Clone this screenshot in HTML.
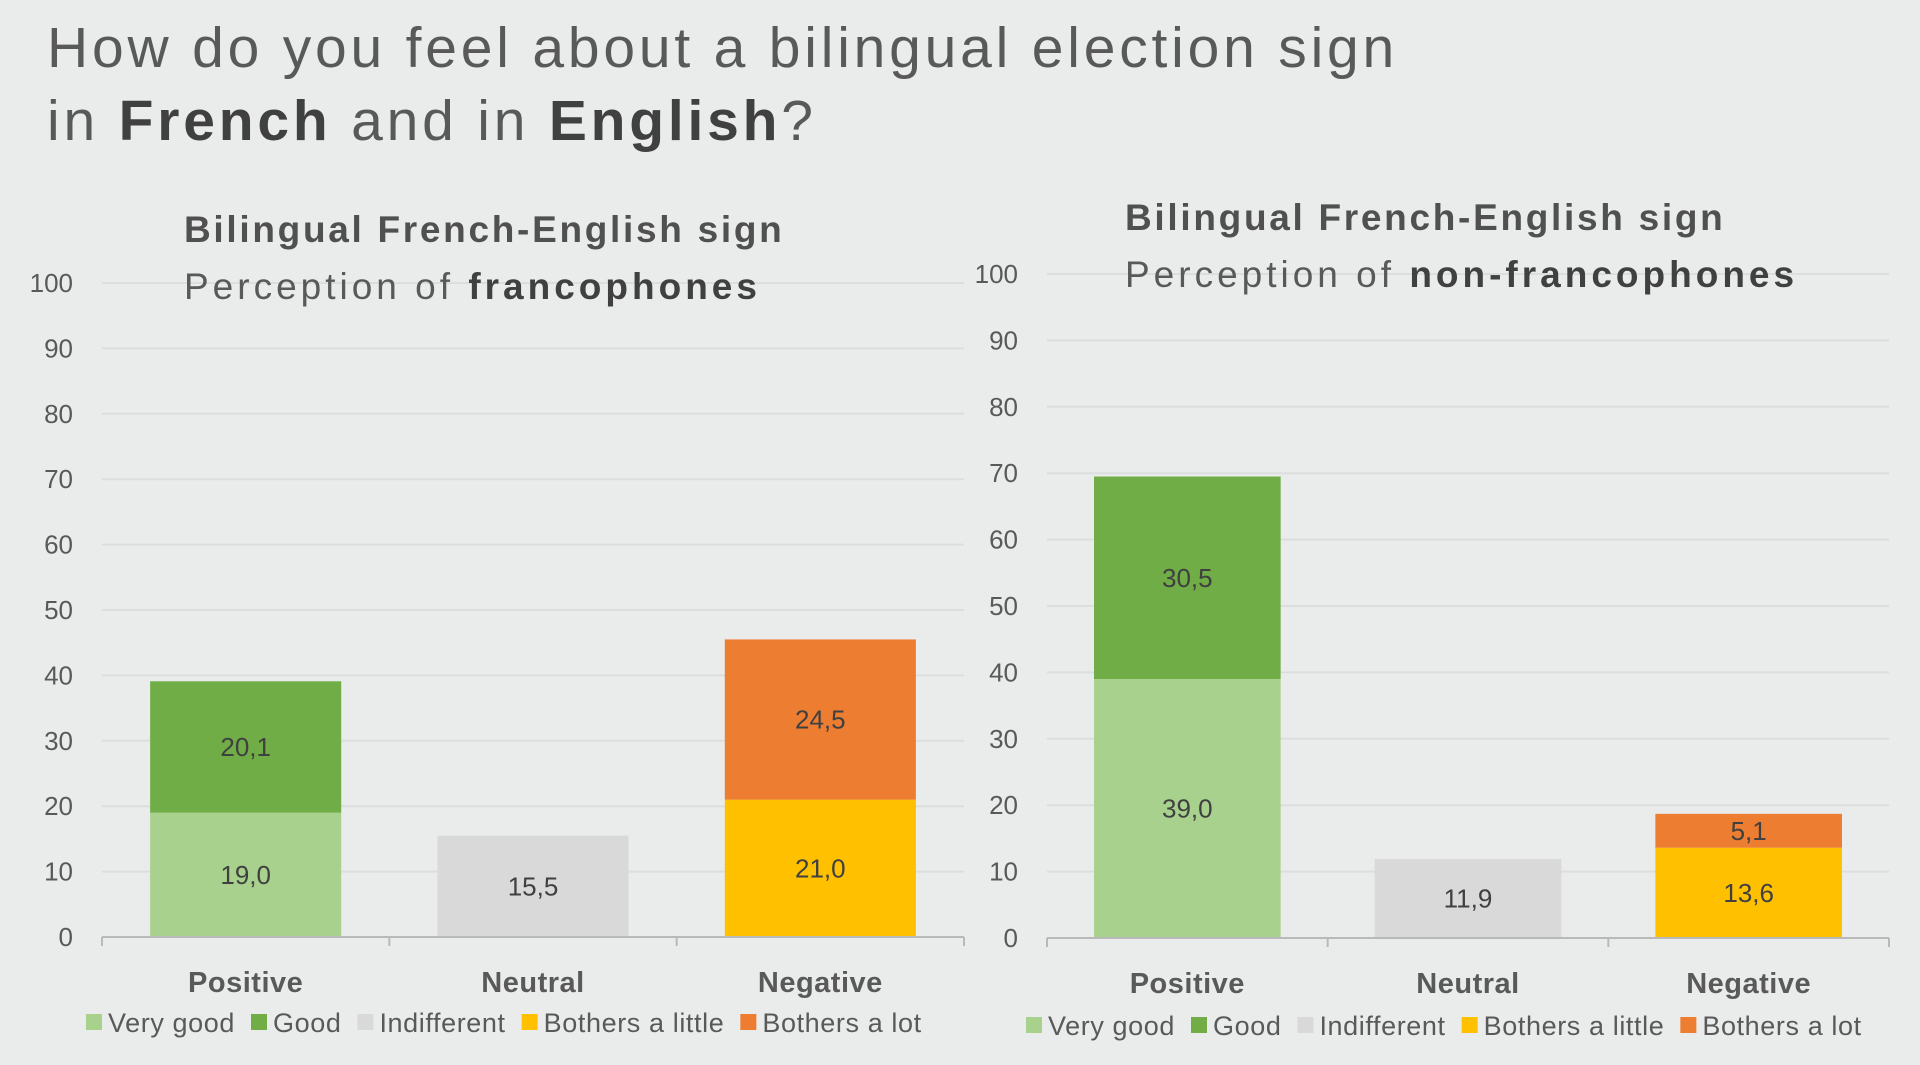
<!DOCTYPE html>
<html><head><meta charset="utf-8"><style>
html,body{margin:0;padding:0;background:#eaecec;}
svg{display:block;font-family:"Liberation Sans",sans-serif;}
</style></head><body>
<svg id="svg" width="1920" height="1065" viewBox="0 0 1920 1065">
<rect width="1920" height="1065" fill="#eaecec"/>
<text x="47" y="67" font-size="57" fill="#595959" letter-spacing="3.8">How do you feel about a bilingual election sign</text>
<text x="47" y="140" font-size="57" fill="#595959" letter-spacing="3.8">in <tspan font-weight="bold" fill="#404040">French</tspan> and in <tspan font-weight="bold" fill="#404040">English</tspan>?</text>
</svg>
<script>
const categories = ["Positive","Neutral","Negative"];
const seriesNames = ["Very good","Good","Indifferent","Bothers a little","Bothers a lot"];
const seriesColors = ["#a9d18e","#70ad47","#d9d9d9","#ffc000","#ed7d31"];
// stacked segments per category: [seriesIndex, value]
const franco = [[[0,19.0],[1,20.1]],[[2,15.5]],[[3,21.0],[4,24.5]]];
const nonFranco = [[[0,39.0],[1,30.5]],[[2,11.9]],[[3,13.6],[4,5.1]]];
const yTicks = [0,10,20,30,40,50,60,70,80,90,100];

const NS = "http://www.w3.org/2000/svg";
const svg = document.getElementById('svg');
function mk(tag, attrs, parent){const e=document.createElementNS(NS,tag);for(const k in attrs)e.setAttribute(k,attrs[k]);(parent||svg).appendChild(e);return e;}

function drawChart(cfg, data){
  const g = mk('g',{});
  
  
  const y = v => cfg.y0 - (cfg.y0 - cfg.y100) * v / 100;
  const catW = (cfg.x1 - cfg.x0) / categories.length;
  const barW = catW * 0.665;
  // gridlines + ticks
  yTicks.forEach(v=>{
    if(v>0){const l=mk('line',{x1:cfg.x0,x2:cfg.x1,y1:y(v),y2:y(v),stroke:'#dcdede','stroke-width':2},g);
      
      }
    const tt=mk('text',{x:cfg.lx,y:y(v)+9,'font-size':26,fill:'#595959','text-anchor':'end'},g);
    tt.textContent=v;
    
    
  });
  // title
  const t1 = mk('text',{x:cfg.tx,y:cfg.ty,'font-size':37,'font-weight':'bold',fill:'#505050','letter-spacing':'2.7'},g);
  t1.textContent = "Bilingual French-English sign";
  
  
  const t2 = mk('text',{x:cfg.tx,y:cfg.ty+57,'font-size':37,fill:'#595959','letter-spacing':'4'},g);
  t2.innerHTML = 'Perception of <tspan font-weight="bold" fill="#404040">'+cfg.group+'</tspan>';
  
  
  // bars
  data.forEach((segs,ci)=>{
    const cx = cfg.x0 + catW*(ci+0.5);
    let base = 0;
    segs.forEach(([si,val])=>{
      const r = mk('rect',{x:cx-barW/2,y:y(base+val),width:barW,height:y(base)-y(base+val),fill:seriesColors[si]},g);
      
      
      const lt = mk('text',{x:cx,y:(y(base)+y(base+val))/2+9,'font-size':26,fill:'#404040','text-anchor':'middle'},g);
      lt.textContent = val.toFixed(1).replace('.',',');
      
      
      base += val;
    });
    const cl = mk('text',{x:cx,y:cfg.y0+55,'font-size':29,'font-weight':'bold',fill:'#595959','text-anchor':'middle','letter-spacing':'0.5'},g);
    cl.textContent = categories[ci];
    
    
  });
  // axis
  const ax = mk('line',{x1:cfg.x0,x2:cfg.x1,y1:cfg.y0,y2:cfg.y0,stroke:'#b8baba','stroke-width':2},g);
  
  
  for(let i=0;i<=categories.length;i++){
    const tk=mk('line',{x1:cfg.x0+catW*i,x2:cfg.x0+catW*i,y1:cfg.y0,y2:cfg.y0+9,stroke:'#b8baba','stroke-width':2},g);
    
    
  }
  // legend
  let lx = cfg.legx;
  const ly = cfg.legy;
  seriesNames.forEach((n,i)=>{
    const sw = mk('rect',{x:lx,y:ly-18,width:16,height:16,fill:seriesColors[i]},g);
    
    
    const lt = mk('text',{x:lx+22,y:ly,'font-size':27,fill:'#595959','letter-spacing':'0.6'},g);
    lt.textContent = n;
    
    
    lx += 22 + lt.getComputedTextLength() + 16;
  });
}
drawChart({name:'chart-francophones',group:'francophones',x0:102,x1:964,y0:937,y100:283,lx:73,tx:184,ty:242,legx:86,legy:1032},franco);
drawChart({name:'chart-non-francophones',group:'non-francophones',x0:1047,x1:1889,y0:938,y100:274,lx:1018,tx:1125,ty:230,legx:1026,legy:1035},nonFranco);
</script>
</body></html>
